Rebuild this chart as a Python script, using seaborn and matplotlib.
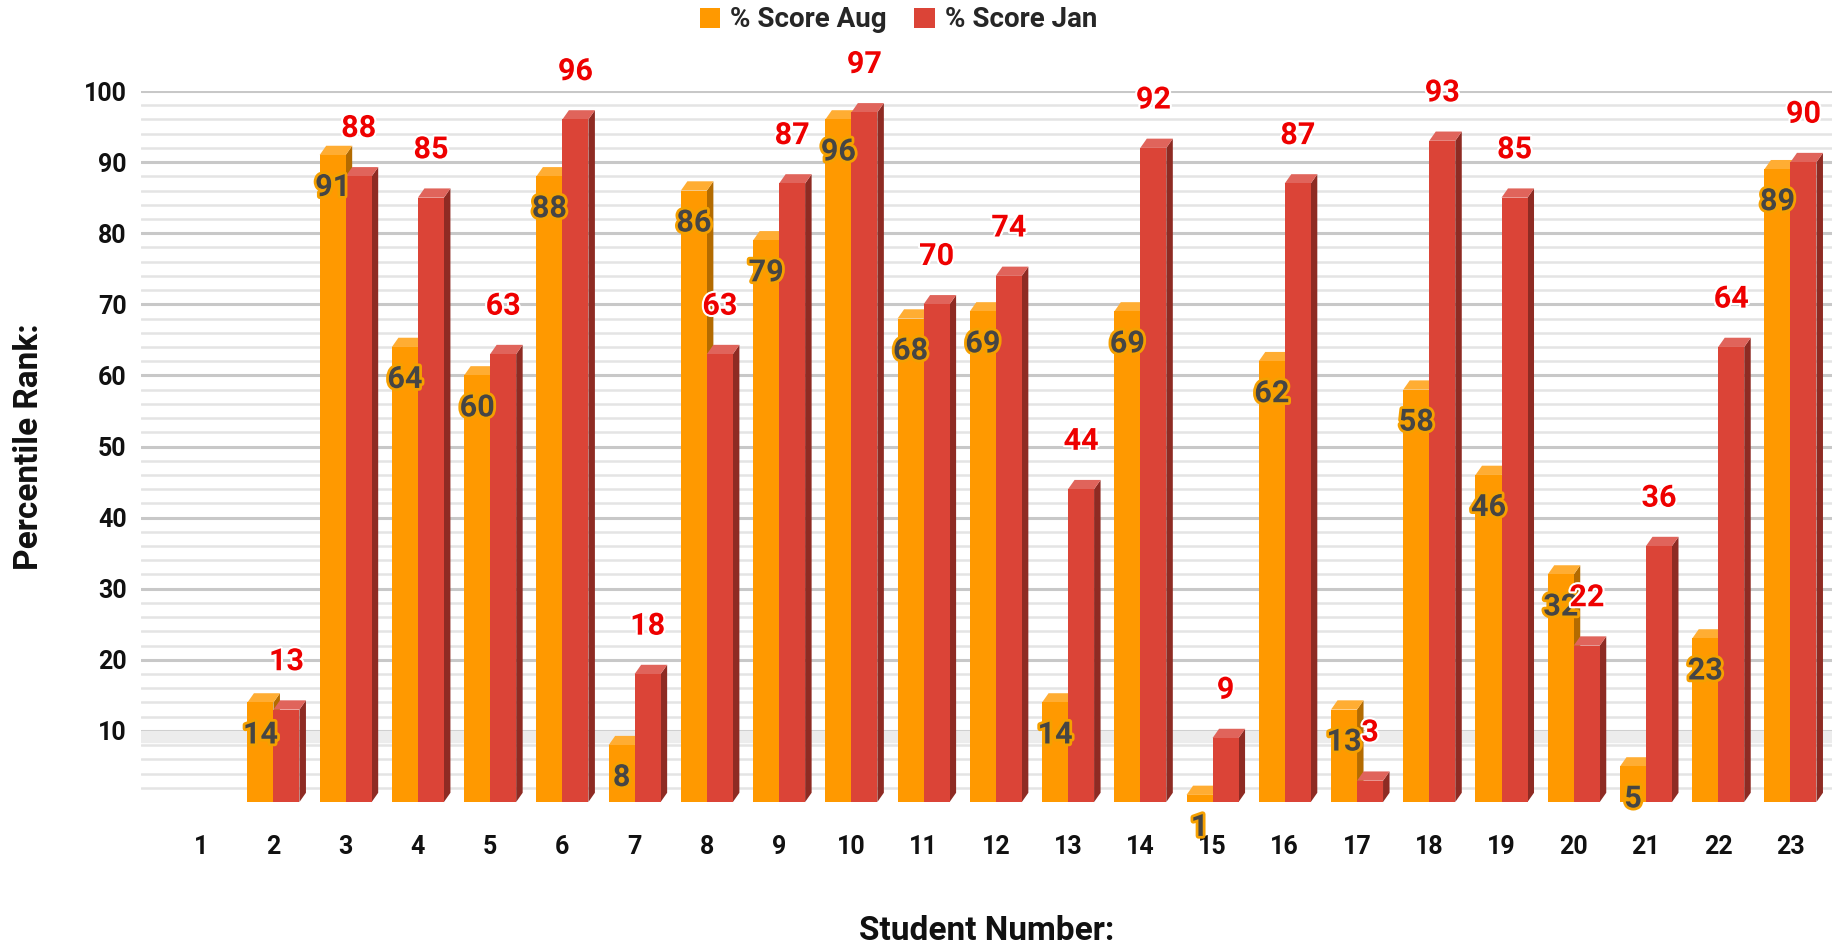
import numpy as np
import pandas as pd
import matplotlib
matplotlib.use("Agg")
import matplotlib.pyplot as plt
import matplotlib.patheffects as pe
from matplotlib.patches import Polygon
import seaborn as sns

# Data (student 1 has no scores)
students = [str(i) for i in range(1, 24)]
score_aug = [np.nan, 14, 91, 64, 60, 88, 8, 86, 79, 96, 68, 69, 14, 69, 1, 62, 13, 58, 46, 32, 5, 23, 89]
score_jan = [np.nan, 13, 88, 85, 63, 96, 18, 63, 87, 97, 70, 74, 44, 92, 9, 87, 3, 93, 85, 22, 36, 64, 90]
series_names = ["% Score Aug", "% Score Jan"]

df = pd.DataFrame({
    "student": students * 2,
    "series": [series_names[0]] * len(students) + [series_names[1]] * len(students),
    "value": score_aug + score_jan,
})

orange = "#ff9900"
red = "#db4437"
side_cols = {orange: "#b36b00", red: "#8e2b23"}
top_cols = {orange: "#ffad33", red: "#e0645b"}

sns.set_theme(style="white")
plt.rcParams["font.family"] = ["Roboto", "DejaVu Sans"]

fig = plt.figure(figsize=(18.49, 9.48), dpi=100)
ax = fig.add_axes([0.076, 0.154, 0.915, 0.75])

sns.barplot(data=df, x="student", y="value", hue="series", order=students,
            hue_order=series_names, palette=[orange, red], width=0.72, gap=0,
            saturation=1, errorbar=None, ax=ax, zorder=3, linewidth=0)

# minor / major horizontal grid lines on the back wall
for v in range(2, 101, 2):
    ax.axhline(v, color="#c8c8c8" if v % 10 == 0 else "#e4e4e4",
               lw=2.2 if v % 10 == 0 else 1.8, zorder=0)
ax.axhspan(8.4, 10, color="#ececec", zorder=0)

# fake 3D depth on every bar + data labels
dx, dy = 0.09, 1.3
for cont, col in zip(ax.containers, [orange, red]):
    for p in cont.patches:
        h = p.get_height()
        if np.isnan(h) or h == 0:
            continue
        x0, w = p.get_x(), p.get_width()
        x1 = x0 + w
        side = Polygon([(x1, 0), (x1 + dx, dy), (x1 + dx, h + dy), (x1, h)],
                       closed=True, fc=side_cols[col], ec="none", zorder=2.9)
        top = Polygon([(x0, h), (x0 + dx, h + dy), (x1 + dx, h + dy), (x1, h)],
                      closed=True, fc=top_cols[col], ec="none", zorder=2.9)
        ax.add_patch(side)
        ax.add_patch(top)
        cx = x0 + w / 2
        if col == orange:
            ax.text(cx, h - 4.5, f"{int(round(h))}", ha="center", va="center",
                    fontsize=22, fontweight="bold", color="#454545", zorder=6, clip_on=False,
                    path_effects=[pe.withStroke(linewidth=4, foreground="#f5a000")])
        else:
            ax.text(cx, h + 6.8, f"{int(round(h))}", ha="center", va="center",
                    fontsize=22, fontweight="bold", color="#ee0000", zorder=7, clip_on=False,
                    path_effects=[pe.withStroke(linewidth=3, foreground="white")])

ax.set_xlim(-0.84, 22.58)
ax.set_ylim(0, 100)
ax.set_yticks(range(10, 101, 10))
ax.tick_params(axis="both", length=0, labelsize=18)
ax.tick_params(axis="x", pad=24)
ax.tick_params(axis="y", pad=10)
for lbl in ax.get_xticklabels() + ax.get_yticklabels():
    lbl.set_fontweight("bold")
    lbl.set_color("#111111")
for s in ax.spines.values():
    s.set_visible(False)

ax.set_xlabel("Student Number:", fontsize=24, fontweight="bold", labelpad=40, color="#111111")
ax.set_ylabel("Percentile Rank:", fontsize=24, fontweight="bold", labelpad=28, color="#111111")

handles, labels = ax.get_legend_handles_labels()
ax.legend(handles, labels, loc="center", bbox_to_anchor=(0.448, 1.1), ncol=2,
          frameon=False, handlelength=0.75, handleheight=0.75,
          columnspacing=1.0, handletextpad=0.35, prop={"weight": "bold", "size": 20})

fig.savefig("out.png", dpi=100)
